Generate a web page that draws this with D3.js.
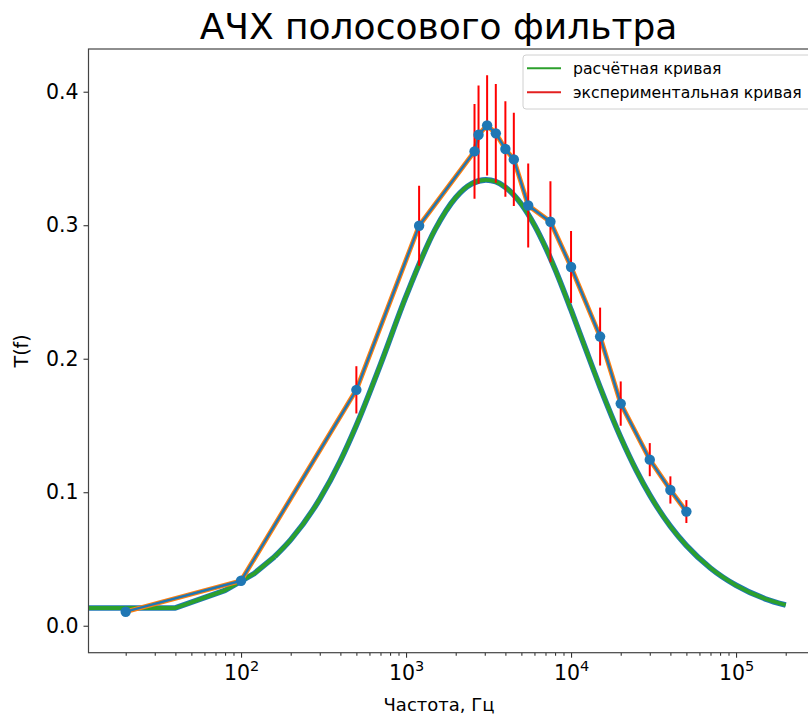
<!DOCTYPE html>
<html><head><meta charset="utf-8">
<script src="https://cdn.jsdelivr.net/npm/d3@7"></script>
<style>
html,body{margin:0;padding:0;background:#fff;}
svg{display:block;font-family:"DejaVu Sans",sans-serif;}
</style></head>
<body>
<svg id="chart" width="808" height="717"></svg>
<script>
// ---- data ----
const expFreq = [20, 100, 500, 1200, 2600, 2750, 3100, 3500, 4000, 4500, 5500, 7500, 10000, 15000, 20000, 30000, 40000, 50000];
const expT    = [0.0105, 0.0337, 0.1767, 0.2996, 0.3553, 0.3678, 0.3748, 0.3688, 0.3571, 0.3493, 0.3148, 0.3026, 0.2687, 0.2166, 0.1664, 0.1244, 0.1017, 0.0855];
const expErr  = [0.0011, 0.0034, 0.0177, 0.0300, 0.0355, 0.0368, 0.0375, 0.0369, 0.0357, 0.0349, 0.0315, 0.0303, 0.0269, 0.0217, 0.0166, 0.0124, 0.0102, 0.0086];

const theoryFreq = [1, 40, 80, 120, 160, 200, 300, 400, 500, 700, 1000, 1500, 2000, 2500, 3050, 3500, 4000, 5000, 6000, 7000, 8000, 10000, 12000, 15000, 20000, 25000, 30000, 40000, 50000, 70000, 100000, 150000, 200000];
const theoryT    = [0.0133, 0.0133, 0.0265, 0.0390, 0.0518, 0.0644, 0.0949, 0.1236, 0.1501, 0.1957, 0.2468, 0.2968, 0.3207, 0.3311, 0.3340, 0.3326, 0.3285, 0.3158, 0.3001, 0.2835, 0.2671, 0.2366, 0.2104, 0.1787, 0.1411, 0.1158, 0.0979, 0.0745, 0.0601, 0.0432, 0.0303, 0.0202, 0.0155];

const xMajorTicks = [100, 1000, 10000, 100000];
const xMajorExp   = ["2", "3", "4", "5"];
const yTicks = [0.0, 0.1, 0.2, 0.3, 0.4];
const xLimits = [11.9, 316000];
const yLimits = [-0.0202, 0.432];

const titleText = "АЧХ полосового фильтра";
const xLabelText = "Частота, Гц";
const yLabelText = "T(f)";
const legendLabels = ["расчётная кривая", "экспериментальная кривая"];

// ---- layout ----
const L = 88.5, R = 818.5, T = 49, B = 652.7;
const svg = d3.select("#chart");
const x = d3.scaleLog().domain(xLimits).range([L, R]);
const y = d3.scaleLinear().domain(yLimits).range([B, T]);

svg.append("defs").append("clipPath").attr("id", "clip")
  .append("rect").attr("x", L).attr("y", T).attr("width", R - L).attr("height", B - T);

const plot = svg.append("g").attr("clip-path", "url(#clip)");

const theory = theoryFreq.map((f, i) => ({f, t: theoryT[i]}));
const theoryLow = theory.filter(d => d.f <= 160);
const theoryHigh = theory.filter(d => d.f >= 160);
const exp = expFreq.map((f, i) => ({f, t: expT[i], e: expErr[i]}));

const lineLin = d3.line().x(d => x(d.f)).y(d => y(d.t));
const lineSmooth = d3.line().x(d => x(d.f)).y(d => y(d.t)).curve(d3.curveMonotoneX);

function theoryPath(color, width) {
  plot.append("path").datum(theoryLow).attr("d", lineLin)
    .attr("fill", "none").attr("stroke", color).attr("stroke-width", width).attr("stroke-linejoin", "round");
  plot.append("path").datum(theoryHigh).attr("d", lineSmooth)
    .attr("fill", "none").attr("stroke", color).attr("stroke-width", width).attr("stroke-linejoin", "round");
}
theoryPath("#1f77b4", 5.6);
theoryPath("#2ca02c", 3.8);

plot.append("path").datum(exp).attr("d", lineLin)
  .attr("fill", "none").attr("stroke", "#ff7f0e").attr("stroke-width", 4.8).attr("stroke-linejoin", "round");
plot.append("path").datum(exp).attr("d", lineLin)
  .attr("fill", "none").attr("stroke", "#1f77b4").attr("stroke-width", 2.4).attr("stroke-linejoin", "round");

plot.selectAll("line.err").data(exp).enter().append("line")
  .attr("x1", d => x(d.f)).attr("x2", d => x(d.f))
  .attr("y1", d => y(d.t - d.e)).attr("y2", d => y(d.t + d.e))
  .attr("stroke", "#ff0000").attr("stroke-width", 2);

plot.selectAll("circle.pt").data(exp).enter().append("circle")
  .attr("cx", d => x(d.f)).attr("cy", d => y(d.t)).attr("r", 5.2)
  .attr("fill", "#1f77b4");

// ---- axes ----
const minorTicks = [];
[10, 100, 1000, 10000, 100000].forEach(dec => {
  for (let k = 2; k <= 9; k++) {
    const v = dec * k;
    if (v > xLimits[0] && v < xLimits[1]) minorTicks.push(v);
  }
});

const gxMinor = svg.append("g").attr("transform", `translate(0,${B})`)
  .call(d3.axisBottom(x).tickValues(minorTicks).tickSize(3).tickFormat(""));
gxMinor.select(".domain").remove();

const gx = svg.append("g").attr("transform", `translate(0,${B})`)
  .call(d3.axisBottom(x).tickValues(xMajorTicks).tickSize(5).tickPadding(8).tickFormat(() => ""));
gx.select(".domain").remove();
gx.selectAll(".tick text").each(function(d, i) {
  const t = d3.select(this);
  t.attr("font-size", 20.5).attr("font-family", "DejaVu Sans").attr("fill", "#000")
   .attr("dy", "0.71em");
  t.append("tspan").text("10");
  t.append("tspan").text(xMajorExp[i]).attr("font-size", 14.5).attr("dy", "-0.62em");
});

const gy = svg.append("g").attr("transform", `translate(${L},0)`)
  .call(d3.axisLeft(y).tickValues(yTicks).tickSize(5).tickPadding(5).tickFormat(d3.format(".1f")));
gy.select(".domain").remove();
gy.selectAll(".tick text").attr("font-size", 20.5).attr("font-family", "DejaVu Sans").attr("fill", "#000");

svg.selectAll(".tick line").attr("stroke", "#333").attr("stroke-width", 1.1);

// frame
svg.append("rect").attr("x", L).attr("y", T).attr("width", R - L).attr("height", B - T)
  .attr("fill", "none").attr("stroke", "#444").attr("stroke-width", 1.2);

// ---- labels ----
svg.append("text").attr("x", 438.5).attr("y", 39).attr("text-anchor", "middle")
  .attr("font-size", 36).attr("fill", "#000").text(titleText);
svg.append("text").attr("x", 439).attr("y", 711).attr("text-anchor", "middle")
  .attr("font-size", 18).attr("fill", "#000").text(xLabelText);
svg.append("text").attr("transform", `translate(28,${(T + B) / 2}) rotate(-90)`)
  .attr("text-anchor", "middle").attr("font-size", 19).attr("fill", "#000").text(yLabelText);

// ---- legend ----
const lg = svg.append("g");
lg.append("rect").attr("x", 523).attr("y", 55).attr("width", 320).attr("height", 54).attr("rx", 3)
  .attr("fill", "#fff").attr("fill-opacity", 0.8).attr("stroke", "#d0d0d0").attr("stroke-width", 1);
const legendColors = ["#2ca02c", "#e32020"];
const legendY = [68.3, 92.3];
legendLabels.forEach((lab, i) => {
  lg.append("line").attr("x1", 527).attr("x2", 561).attr("y1", legendY[i]).attr("y2", legendY[i])
    .attr("stroke", legendColors[i]).attr("stroke-width", 2);
  lg.append("text").attr("x", 573).attr("y", legendY[i]).attr("dy", "0.36em")
    .attr("font-size", 15.7).attr("fill", "#000").text(lab);
});
</script>
</body></html>
